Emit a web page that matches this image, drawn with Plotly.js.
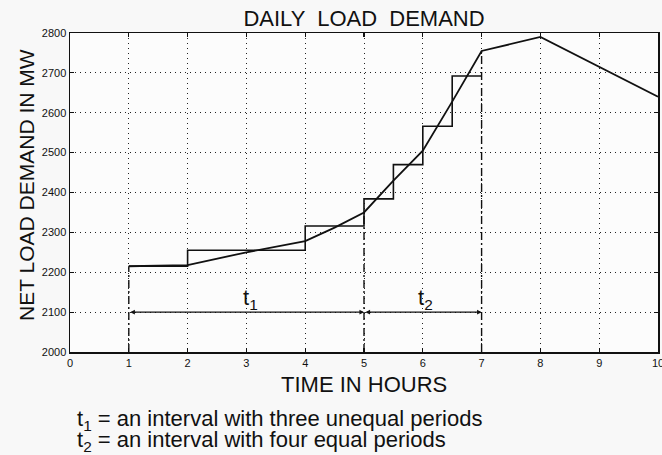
<!DOCTYPE html>
<html>
<head>
<meta charset="utf-8">
<script src="https://cdn.plot.ly/plotly-3.0.1.min.js"></script>
<style>html,body{margin:0;padding:0;background:#f8f8f8;}#chart{width:662px;height:455px;}</style>
</head>
<body>
<div id="chart"></div>
<script>
// Load curve (hours vs MW)
var hours = [1, 2, 3, 4, 4.5, 5, 5.5, 6, 6.5, 7, 8, 9, 10];
var loadMW = [2215, 2218, 2250, 2278, 2312, 2350, 2430, 2505, 2628, 2755, 2790, 2715, 2640];

// Step approximation
var stepHours = [1, 2, 4, 5, 5.5, 6, 6.5, 7];
var stepMW = [2215, 2255, 2316, 2384, 2470, 2566, 2692, 2692];

// Interval boundary markers (dash-dot verticals)
var boundaryHours = [1, 5, 7];
var boundaryTops = [2215, 2350, 2755];
var axisBottom = 2000;

// Interval arrows
var arrowLevel = 2100;
var intervals = [[1, 5], [5, 7]];
var intervalLabels = ["t<sub>1</sub>", "t<sub>2</sub>"];
var labelHours = [2.9, 5.88];
var labelLevel = 2133;

var xTicks = [0,1,2,3,4,5,6,7,8,9,10];
var yTicks = [2000,2100,2200,2300,2400,2500,2600,2700,2800];

var notes = ["t<sub>1</sub> = an interval with three unequal periods",
             "t<sub>2</sub> = an interval with four equal periods"];

var bx = [], by = [];
for (var i = 0; i < boundaryHours.length; i++) {
  bx.push(boundaryHours[i], boundaryHours[i], null);
  by.push(axisBottom, boundaryTops[i], null);
}

var traces = [
  {x: bx, y: by, mode: 'lines', line: {color: '#111', width: 1.4, dash: '8px,3px,2px,3px'}, hoverinfo: 'skip'},
  {x: stepHours, y: stepMW, mode: 'lines', line: {color: '#111', width: 1.6, shape: 'hv'}},
  {x: hours, y: loadMW, mode: 'lines', line: {color: '#111', width: 1.8}}
];

var FONT = 'Arial, Liberation Sans, sans-serif';
var ann = [];
for (var j = 0; j < intervals.length; j++) {
  ann.push({x: intervals[j][1], y: arrowLevel, ax: intervals[j][0], ay: arrowLevel,
    xref: 'x', yref: 'y', axref: 'x', ayref: 'y', text: '', showarrow: true,
    arrowside: 'end+start', arrowhead: 2, arrowsize: 0.7, arrowwidth: 1.3, arrowcolor: '#111',
    standoff: 0, startstandoff: 0});
  ann.push({x: labelHours[j], y: labelLevel, xref: 'x', yref: 'y', text: intervalLabels[j],
    showarrow: false, xanchor: 'left', yanchor: 'middle',
    font: {family: FONT, size: 22, color: '#111'}});
}
// y-axis title
ann.push({x: -0.075, y: 0.5235, xref: 'paper', yref: 'paper', text: 'NET LOAD DEMAND IN MW',
  textangle: -90, showarrow: false, xanchor: 'center', yanchor: 'middle',
  font: {family: FONT, size: 21, color: '#111'}});
// x-axis title
ann.push({x: 0.5, y: -0.103, xref: 'paper', yref: 'paper', text: 'TIME IN HOURS',
  showarrow: false, xanchor: 'center', yanchor: 'middle',
  font: {family: FONT, size: 22, color: '#111'}});
// notes
ann.push({x: 0.0085, y: -0.212, xref: 'paper', yref: 'paper', text: notes[0],
  showarrow: false, xanchor: 'left', yanchor: 'middle',
  font: {family: FONT, size: 22, color: '#111'}});
ann.push({x: 0.0085, y: -0.279, xref: 'paper', yref: 'paper', text: notes[1],
  showarrow: false, xanchor: 'left', yanchor: 'middle',
  font: {family: FONT, size: 22, color: '#111'}});

var axisCommon = {
  showline: true, linecolor: '#111', linewidth: 1.5, mirror: 'ticks',
  ticks: 'inside', ticklen: 4, tickwidth: 1.2, tickcolor: '#111',
  showgrid: true, gridcolor: '#222', gridwidth: 1, griddash: '1px,4px',
  zeroline: false, ticklabeloverflow: 'allow',
  tickfont: {family: FONT, size: 11, color: '#111'}
};

var layout = {
  width: 662, height: 455,
  margin: {l: 70, r: 4, t: 33, b: 103},
  paper_bgcolor: '#f8f8f8', plot_bgcolor: '#fcfcfc',
  showlegend: false,
  title: {text: 'DAILY  LOAD  DEMAND', x: 0.5, xref: 'paper', xanchor: 'center',
    y: 0.959, yref: 'container', yanchor: 'middle',
    font: {family: FONT, size: 22, color: '#111'}},
  xaxis: Object.assign({}, axisCommon, {range: [0, 10], tickvals: xTicks, ticktext: xTicks.map(String)}),
  yaxis: Object.assign({}, axisCommon, {range: [2000, 2800], tickvals: yTicks, ticktext: yTicks.map(String)}),
  annotations: ann
};

Plotly.newPlot('chart', traces, layout, {staticPlot: true, displayModeBar: false});
</script>
</body>
</html>
